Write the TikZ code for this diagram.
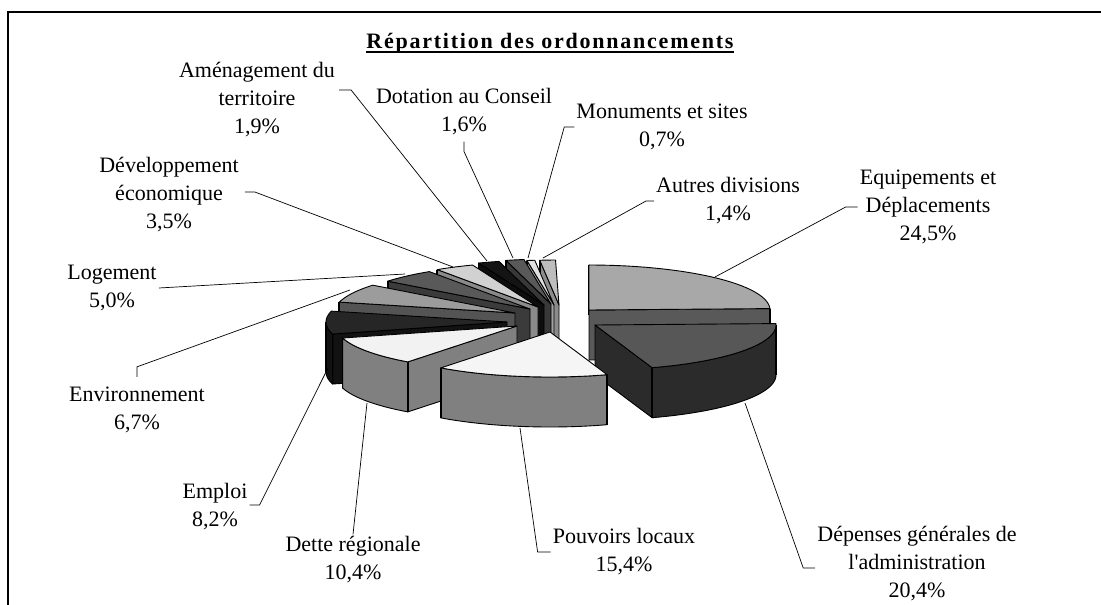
\documentclass[tikz,border=0pt]{standalone}
\usepackage{fontspec}
\setmainfont{Liberation Serif}
\tikzset{
	facet/.style={draw=black, line width=0.9pt, line join=round},
	edge/.style={draw=black, line width=1.8pt},
	leader/.style={draw=black, line width=0.7pt},
	lab/.style={align=center, inner sep=2pt, font=\fontsize{22}{28}\selectfont},
	frame/.style={draw=black, line width=1.3pt},
}
% apex x, apex y, start, end (degrees clockwise from 12 o'clock), top colour, side colour
\newcommand{\pieslice}[6]{%
	\pgfmathsetmacro{\wa}{max(#3,90)}%
	\pgfmathsetmacro{\wb}{min(#4,270)}%
	\pgfmathtruncatemacro{\sv}{(#3>180)||(#3<1)}%
	\pgfmathtruncatemacro{\ev}{(#4<180)}%
	\ifnum\sv=1
		\filldraw[facet, fill=#6] (#1,#2) -- ({#1+181*sin(#3)},{#2-45*cos(#3)}) -- ++(0,50) -- (#1,#2+50) -- cycle;
		\draw[edge] ({#1+181*sin(#3)},{#2-45*cos(#3)}) -- ++(0,50);
	\fi
	\ifnum\ev=1
		\filldraw[facet, fill=#6] (#1,#2) -- ({#1+181*sin(#4)},{#2-45*cos(#4)}) -- ++(0,50) -- (#1,#2+50) -- cycle;
		\draw[edge] ({#1+181*sin(#4)},{#2-45*cos(#4)}) -- ++(0,50);
	\fi
	\ifdim\wa pt<\wb pt
		\filldraw[facet, fill=#6] plot[domain=\wa:\wb, samples=30] ({#1+181*sin(\x)},{#2-45*cos(\x)})
			-- plot[domain=\wb:\wa, samples=30] ({#1+181*sin(\x)},{#2+50-45*cos(\x)}) -- cycle;
		\draw[edge] ({#1+181*sin(\wa)},{#2-45*cos(\wa)}) -- ++(0,50);
		\draw[edge] ({#1+181*sin(\wb)},{#2-45*cos(\wb)}) -- ++(0,50);
	\fi
	\filldraw[facet, fill=#5] (#1,#2) -- plot[domain=#3:#4, samples=30] ({#1+181*sin(\x)},{#2-45*cos(\x)}) -- cycle;
}

\begin{document}
\begin{tikzpicture}[x=1pt, y=-1pt]
	\useasboundingbox (0,0) rectangle (1101,605);
	\draw[frame] (8,605) -- (8,12) -- (1101,12);

	\node[inner sep=0pt, font=\bfseries\fontsize{22}{28}\selectfont\addfontfeatures{LetterSpace=8}] (title) at (550,43) {Répartition des ordonnancements};
	\draw[line width=2.2pt] ([yshift=-4pt]title.base west) -- ([yshift=-4pt]title.base east);

	% back slices first
	\pieslice{559}{305}{353.9}{358.9}{black!26}{black!45}
	\pieslice{554}{305}{351.4}{353.9}{black!12}{black!37}
	\pieslice{551}{304}{345.6}{351.4}{black!65}{black!78}
	\pieslice{544}{305}{338.8}{345.6}{black!92}{black!95}
	\pieslice{538}{307}{326.2}{338.8}{black!18}{black!46}
	\pieslice{530}{309}{308.2}{326.2}{black!65}{black!77}
	\pieslice{515}{313}{284.0}{308.2}{black!39}{black!67}
	\pieslice{507}{322}{254.5}{284.0}{black!85}{black!93}
	\pieslice{517}{326}{217.1}{254.5}{black!5}{black!50}
	\pieslice{589}{310}{0}{88.2}{black!34}{black!65}
	\pieslice{595}{325}{88.2}{161.6}{black!66}{black!83}
	\pieslice{550}{332}{161.6}{217.1}{black!4}{black!50}

	\node[lab] (amen) at (257,100) {Aménagement du\\territoire\\1,9\%};
	\node[lab] (dota) at (464,112) {Dotation au Conseil\\1,6\%};
	\node[lab] (monu) at (662,127) {Monuments et sites\\0,7\%};
	\node[lab] (autr) at (728,201) {Autres divisions\\1,4\%};
	\node[lab] (equi) at (928,207) {Equipements et\\Déplacements\\24,5\%};
	\node[lab] (depe) at (917,564) {Dépenses générales de\\l\textquotesingle administration\\20,4\%};
	\node[lab] (pouv) at (624,552) {Pouvoirs locaux\\15,4\%};
	\node[lab] (dett) at (353,560) {Dette régionale\\10,4\%};
	\node[lab] (empl) at (215,507) {Emploi\\8,2\%};
	\node[lab] (envi) at (137,410) {Environnement\\6,7\%};
	\node[lab] (loge) at (112,288) {Logement\\5,0\%};
	\node[lab] (deve) at (169,195) {Développement\\économique\\3,5\%};

	\coordinate (pamen) at (487,261);
	\coordinate (pdota) at (513,258);
	\coordinate (pmonu) at (528,258);
	\coordinate (pautr) at (543,258);
	\coordinate (pequi) at (715,277);
	\coordinate (pdepe) at (745,403);
	\coordinate (ppouv) at (520,428);
	\coordinate (pdett) at (367,403);
	\coordinate (pempl) at (328,368);
	\coordinate (penvi) at (350,290);
	\coordinate (ploge) at (405,274);
	\coordinate (pdeve) at (453,267);

	\draw[leader] (amen.east) ++(2,-10) -- ++(12,0) -- (pamen);
	\draw[leader] (dota.south) ++(0,4) -- ++(0,10) -- (pdota);
	\draw[leader] (monu.west) -- ++(-10,0) -- (pmonu);
	\draw[leader] (autr.west) -- ++(-8,0) -- (pautr);
	\draw[leader] (equi.west) -- ++(-12,0) -- (pequi);
	\draw[leader] (depe.west) ++(0,4) -- ++(-12,0) -- (pdepe);
	\draw[leader] (pouv.west) -- ++(-13,0) -- (ppouv);
	\draw[leader] (dett.north) -- (pdett);
	\draw[leader] (empl.east) ++(0,-2) -- ++(10,0) -- (pempl);
	\draw[leader] (envi.north) ++(0,-8) -- ++(0,-10) -- (penvi);
	\draw[leader] (loge.east) -- (ploge);
	\draw[leader] (deve.east) ++(4,-3) -- ++(10,0) -- (pdeve);
\end{tikzpicture}
\end{document}
